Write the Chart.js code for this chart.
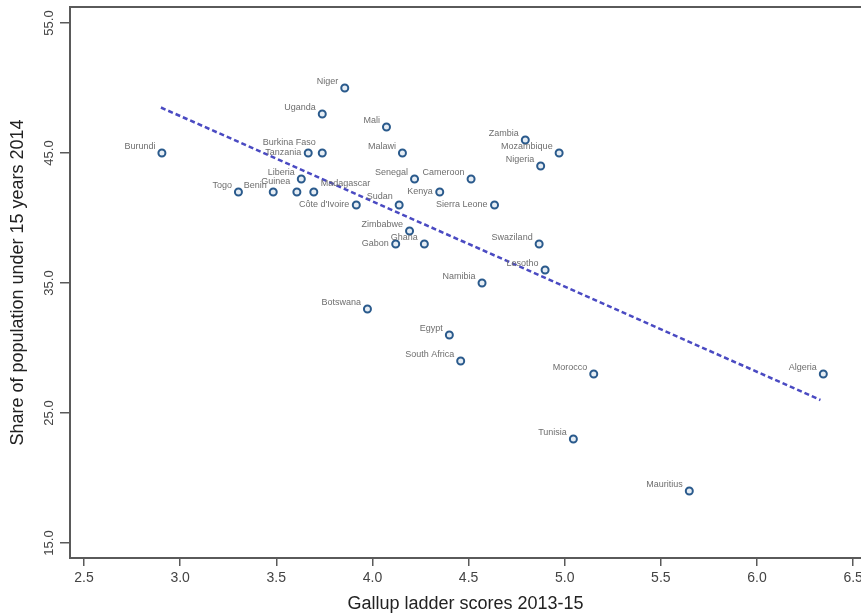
<!DOCTYPE html>
<html>
<head>
<meta charset="utf-8">
<script src="https://cdn.jsdelivr.net/npm/chart.js@4"></script>
<style>
  body { margin: 0; background: #fff; overflow: hidden; }
  canvas { display: block; }
</style>
</head>
<body>
<canvas id="myChart" width="861" height="615"></canvas>
<script>
// countries, Gallup ladder score 2013-15, share of population under 15 (2014)
const countries = ['Burundi', 'Togo', 'Benin', 'Guinea', 'Liberia', 'Tanzania', 'Madagascar',
  'Burkina Faso', 'Uganda', 'Niger', "Côte d'Ivoire", 'Botswana', 'Mali', 'Gabon', 'Sudan',
  'Malawi', 'Zimbabwe', 'Senegal', 'Ghana', 'Kenya', 'Egypt', 'South Africa', 'Cameroon',
  'Namibia', 'Sierra Leone', 'Zambia', 'Swaziland', 'Nigeria', 'Lesotho', 'Mozambique',
  'Tunisia', 'Morocco', 'Mauritius', 'Algeria'];
const ladder = [2.905, 3.303, 3.484, 3.607, 3.63, 3.666, 3.695,
  3.739, 3.739, 3.856, 3.916, 3.974, 4.073, 4.121, 4.139,
  4.156, 4.193, 4.219, 4.27, 4.35, 4.40, 4.459, 4.513,
  4.57, 4.635, 4.795, 4.867, 4.875, 4.898, 4.971,
  5.045, 5.151, 5.648, 6.345];
const under15 = [45, 42, 42, 42, 43, 45, 42,
  45, 48, 50, 41, 33, 47, 38, 41,
  45, 39, 43, 38, 42, 31, 29, 43,
  35, 41, 46, 38, 44, 36, 45,
  23, 28, 19, 28];

// fitted line end points
const trendX = [2.9, 6.33];
const trendY = [48.5, 26.0];

const xTicks = [2.5, 3.0, 3.5, 4.0, 4.5, 5.0, 5.5, 6.0, 6.5];
const yTicks = [15, 25, 35, 45, 55];

// label placement, default is upper-left of the marker
const labelPos = {
  'Tanzania': 'left', "Côte d'Ivoire": 'left', 'Kenya': 'left', 'Sierra Leone': 'left', 'Gabon': 'left',
  'Burkina Faso': 'high', 'Guinea': 'high', 'Sudan': 'upper', 'Madagascar': 'right'
};

Chart.defaults.font.family = '"Liberation Sans", Arial, sans-serif';

const countryLabels = {
  id: 'countryLabels',
  afterDatasetsDraw(chart) {
    const ctx = chart.ctx;
    const meta = chart.getDatasetMeta(0);
    ctx.save();
    ctx.font = '9px "Liberation Sans", Arial, sans-serif';
    ctx.fillStyle = '#6e6e6e';
    ctx.textBaseline = 'middle';
    meta.data.forEach(function(pt, i) {
      const name = countries[i];
      const pos = labelPos[name];
      let x = pt.x - 6.5, y = pt.y - 6.5;
      ctx.textAlign = 'right';
      if (pos === 'left') { y = pt.y; x = pt.x - 7; }
      else if (pos === 'high') { y = pt.y - 10; }
      else if (pos === 'upper') { y = pt.y - 8; }
      else if (pos === 'right') { ctx.textAlign = 'left'; x = pt.x + 7; y = pt.y - 8; }
      ctx.fillText(name, x, y);
    });
    ctx.restore();
  }
};

const points = ladder.map((v, i) => ({x: v, y: under15[i]}));
const trend = trendX.map((v, i) => ({x: v, y: trendY[i]}));

const ctx = document.getElementById('myChart').getContext('2d');
const config = {
  type: 'scatter',
  data: {
    datasets: [{
      data: points,
      pointRadius: 3.5,
      pointHoverRadius: 3.5,
      borderWidth: 2,
      borderColor: '#2a5a8c',
      backgroundColor: '#e6edf4'
    }, {
      data: trend,
      showLine: true,
      pointRadius: 0,
      borderColor: '#4a4ac2',
      borderWidth: 2.5,
      borderDash: [5, 3]
    }]
  },
  options: {
    responsive: false,
    devicePixelRatio: 1,
    animation: false,
    layout: { padding: 0, autoPadding: false },
    plugins: { legend: { display: false }, tooltip: { enabled: false } },
    scales: {
      x: {
        type: 'linear',
        position: 'bottom',
        min: 2.427,
        max: 6.541,
        afterBuildTicks: s => { s.ticks = xTicks.map(v => ({value: v})); },
        afterFit: s => { s.height = 57; s.paddingLeft = 0; s.paddingRight = 0; },
        grid: { drawOnChartArea: false, tickLength: 8, color: '#5a5a5a', lineWidth: 1.5 },
        border: { color: '#5a5a5a', width: 2 },
        ticks: { color: '#444', font: { size: 14 }, padding: 4, callback: v => v.toFixed(1) },
        title: { display: true, text: 'Gallup ladder scores 2013-15', color: '#222',
          font: { size: 18 }, padding: { top: 0, bottom: 0 } }
      },
      top: {
        type: 'linear',
        position: 'top',
        min: 2.427,
        max: 6.541,
        afterFit: s => { s.height = 7; s.paddingLeft = 0; s.paddingRight = 0; },
        grid: { display: false },
        border: { color: '#5a5a5a', width: 2 },
        ticks: { display: false }
      },
      y: {
        type: 'linear',
        position: 'left',
        min: 13.846,
        max: 56.231,
        afterBuildTicks: s => { s.ticks = yTicks.map(v => ({value: v})); },
        afterFit: s => { s.width = 70; s.paddingTop = 0; s.paddingBottom = 0; },
        grid: { drawOnChartArea: false, tickLength: 10, color: '#5a5a5a', lineWidth: 1.5 },
        border: { color: '#5a5a5a', width: 2 },
        ticks: { color: '#444', font: { size: 13 }, padding: -2, minRotation: 90, maxRotation: 90,
          crossAlign: 'center', callback: v => v.toFixed(1) },
        title: { display: true, text: 'Share of population under 15 years 2014', color: '#222',
          font: { size: 18 }, padding: { top: 7, bottom: 0 } }
      }
    }
  },
  plugins: [countryLabels]
};

const myChart = new Chart(ctx, config);
</script>
</body>
</html>
